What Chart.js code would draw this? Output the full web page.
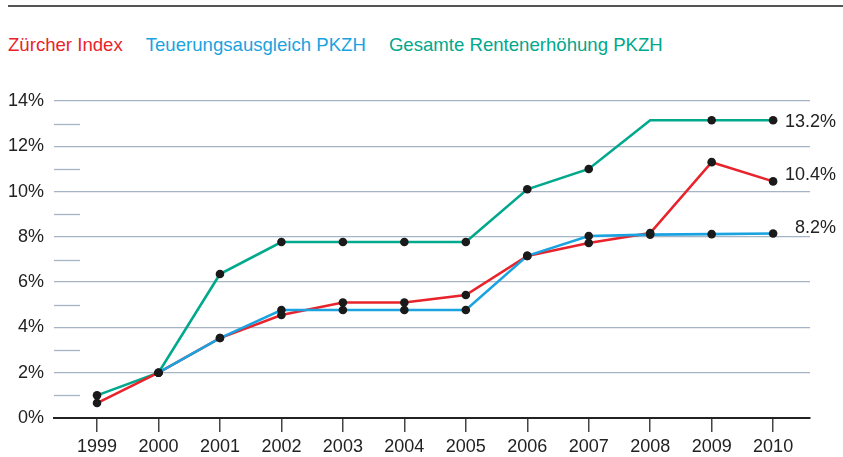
<!DOCTYPE html>
<html>
<head>
<meta charset="utf-8">
<script src="https://cdn.jsdelivr.net/npm/chart.js@4"></script>
<style>
    html, body { margin: 0; padding: 0; background: #fff; }
    #wrap { position: relative; width: 843px; height: 457px; }
    #topRule { position: absolute; left: 8px; right: 0; top: 5px; height: 2px; background: #555; }
    #legend { position: absolute; left: 8px; top: 34px; font: 18.6px 'Liberation Sans', Arial, sans-serif; white-space: nowrap; }
    #legend span { margin-right: 23px; }
    canvas { position: absolute; left: 0; top: 0; }
</style>
</head>
<body>
<div id="wrap">
    <div id="topRule"></div>
    <div id="legend"></div>
    <canvas id="chart" width="843" height="457"></canvas>
</div>
<script>
/* ── Data ───────────────────────────────────────────────────────────────── */

const YEARS = [1999, 2000, 2001, 2002, 2003, 2004, 2005, 2006, 2007, 2008, 2009, 2010];

// Values in percent
const ZUERCHER_INDEX   = [0.66, 2.0, 3.53, 4.55, 5.1, 5.1, 5.43, 7.16, 7.73, 8.17, 11.3, 10.45];
const TEUERUNG_PKZH    = [null, 2.0, 3.53, 4.77, 4.77, 4.77, 4.77, 7.16, 8.04, 8.1, 8.12, 8.15];
const GESAMT_PKZH      = [1.0, 2.0, 6.36, 7.77, 7.77, 7.77, 7.77, 10.1, 11.0, 13.15, 13.15, 13.15];
// 2008 on the green line has no dot in the original
const GESAMT_DOTS      = [true, true, true, true, true, true, true, true, true, false, true, true];

const SERIES_LABELS = ['Zürcher Index', 'Teuerungsausgleich PKZH', 'Gesamte Rentenerhöhung PKZH'];
const END_LABELS    = ['10.4%', '8.2%', '13.2%'];
const Y_TICKS       = [0, 2, 4, 6, 8, 10, 12, 14];

/* ── Style ──────────────────────────────────────────────────────────────── */

const COLORS = {
    red:   '#e8232b',
    blue:  '#1aa3e0',
    green: '#00a88c',
    grid:  '#a5b5c5',
    axis:  '#222222',
    text:  '#222222',
    dot:   '#1a1a1a',
};
const FONT = "'Liberation Sans', Arial, sans-serif";

/* ── Legend (plain coloured text) ───────────────────────────────────────── */

const legendColors = [COLORS.red, COLORS.blue, COLORS.green];
document.getElementById('legend').innerHTML = SERIES_LABELS
    .map((t, i) => `<span style="color:${legendColors[i]}">${t}</span>`)
    .join('');

/* ── Helpers ────────────────────────────────────────────────────────────── */

const toPoints = arr => YEARS.map((y, i) => ({ x: y, y: arr[i] }));

function lineSet(label, values, color, order) {
    return {
        label,
        data: toPoints(values),
        borderColor: color,
        borderWidth: 2.6,
        pointRadius: 0,
        tension: 0,
        spanGaps: false,
        order,
    };
}

function dotSet(values, mask) {
    return {
        data: toPoints(values),
        showLine: false,
        pointRadius: mask ? mask.map(m => (m ? 4.3 : 0)) : 4.3,
        pointBackgroundColor: COLORS.dot,
        pointBorderWidth: 0,
        order: 0,
    };
}

/* ── Plugins ────────────────────────────────────────────────────────────── */

// Short stubs for the odd-percent gridlines
const minorGrid = {
    id: 'minorGrid',
    beforeDatasetsDraw(chart) {
        const { ctx, chartArea, scales: { y } } = chart;
        ctx.save();
        ctx.strokeStyle = COLORS.grid;
        ctx.lineWidth = 1.3;
        for (let v = 1; v < 14; v += 2) {
            const py = Math.round(y.getPixelForValue(v)) + 0.5;
            ctx.beginPath();
            ctx.moveTo(chartArea.left, py);
            ctx.lineTo(chartArea.left + 26, py);
            ctx.stroke();
        }
        ctx.restore();
    },
};

// Final values written at the right end of the lines
const endLabels = {
    id: 'endLabels',
    afterDatasetsDraw(chart) {
        const { ctx, scales: { x, y } } = chart;
        const last = YEARS.length - 1;
        const series = [ZUERCHER_INDEX, TEUERUNG_PKZH, GESAMT_PKZH];
        const lift = [-6, -5, 2];
        ctx.save();
        ctx.font = `18px ${FONT}`;
        ctx.fillStyle = COLORS.text;
        ctx.textAlign = 'right';
        ctx.textBaseline = 'middle';
        series.forEach((s, i) => {
            ctx.fillText(END_LABELS[i], x.getPixelForValue(YEARS[last]) + 63, y.getPixelForValue(s[last]) + lift[i]);
        });
        ctx.restore();
    },
};

/* ── Chart ──────────────────────────────────────────────────────────────── */

new Chart(document.getElementById('chart').getContext('2d'), {
    type: 'line',
    data: {
        datasets: [
            dotSet(ZUERCHER_INDEX),
            dotSet(TEUERUNG_PKZH),
            dotSet(GESAMT_PKZH, GESAMT_DOTS),
            lineSet(SERIES_LABELS[1], TEUERUNG_PKZH, COLORS.blue, 1),
            lineSet(SERIES_LABELS[0], ZUERCHER_INDEX, COLORS.red, 2),
            lineSet(SERIES_LABELS[2], GESAMT_PKZH, COLORS.green, 3),
        ],
    },
    options: {
        responsive: false,
        animation: false,
        layout: { padding: { top: 101, right: 33, left: 0, bottom: 0 } },
        scales: {
            x: {
                type: 'linear',
                min: 1998.3,
                max: 2010.6,
                afterBuildTicks: axis => { axis.ticks = YEARS.map(v => ({ value: v })); },
                afterFit: axis => { axis.height = 39; },
                border: { display: true, color: COLORS.axis, width: 2 },
                grid: {
                    drawOnChartArea: false,
                    drawTicks: true,
                    tickLength: 14,
                    color: '#444',
                    lineWidth: 1.5,
                },
                ticks: {
                    color: COLORS.text,
                    font: { family: FONT, size: 18 },
                    padding: 4,
                    maxRotation: 0,
                    callback: v => String(v),
                },
            },
            y: {
                min: 0,
                max: 14,
                afterBuildTicks: axis => { axis.ticks = Y_TICKS.map(v => ({ value: v })); },
                afterFit: axis => { axis.width = 54; },
                border: { display: false },
                grid: {
                    drawTicks: false,
                    color: ctx => (ctx.tick && ctx.tick.value === 0 ? 'rgba(0,0,0,0)' : COLORS.grid),
                    lineWidth: 1.3,
                },
                ticks: {
                    color: COLORS.text,
                    font: { family: FONT, size: 18 },
                    padding: 10,
                    callback: v => `${v}%`,
                },
            },
        },
        plugins: {
            legend: { display: false },
            tooltip: { enabled: false },
        },
    },
    plugins: [minorGrid, endLabels],
});
</script>
</body>
</html>
